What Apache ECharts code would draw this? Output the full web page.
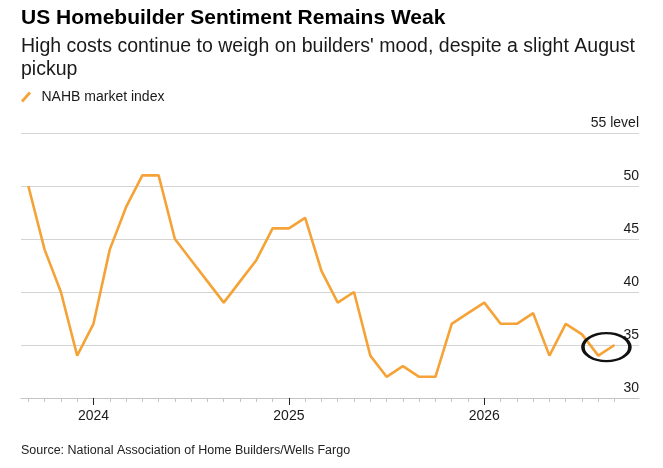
<!DOCTYPE html>
<html>
<head>
<meta charset="utf-8">
<script src="https://cdn.jsdelivr.net/npm/echarts@6/dist/echarts.min.js"></script>
<style>
  html, body { margin: 0; padding: 0; background: #fff; }
  #main { width: 663px; height: 468px; }
</style>
</head>
<body>
<div id="main"></div>
<script>
// NAHB market index, monthly, first point = Sep 2023
var startYear = 2023;
var startMonth = 9;
var nahb = [50, 44, 40, 34, 37, 44, 48, 51, 51, 45, 43, 41, 39, 41, 43, 46, 46, 47, 42, 39, 40, 34, 32, 33, 32, 32, 37, 38, 39, 37, 37, 38, 34, 37, 36, 34, 35];
var yTicks = [30, 35, 40, 45, 50, 55];
var topLabel = '55 level';
// the circled pickup: last two months
var circled = [35, 36];

var lineColor = '#F5A236';

var seriesData = nahb.map(function (v, i) { return [i, v]; });
var monthTicks = nahb.map(function (v, i) { return i; });
var yearTicks = monthTicks.filter(function (i) { return (startMonth - 1 + i) % 12 === 0; });

function yearOf(i) {
  return startYear + Math.floor((startMonth - 1 + i) / 12);
}

var circleCenter = [
  (circled[0] + circled[1]) / 2,
  (nahb[circled[0]] + nahb[circled[1]]) / 2 + 0.3
];

var chart = echarts.init(document.getElementById('main'));

var option = {
  backgroundColor: '#fff',
  animation: false,
  textStyle: { fontFamily: 'Liberation Sans, Arial, sans-serif' },
  title: [
    {
      text: 'US Homebuilder Sentiment Remains Weak',
      left: 21, top: 8, padding: 0,
      textStyle: { fontSize: 21, fontWeight: 'bold', color: '#000' }
    },
    {
      text: "High costs continue to weigh on builders' mood, despite a slight August\npickup",
      left: 21, top: 35, padding: 0,
      textStyle: { fontSize: 19.5, fontWeight: 'normal', color: '#1a1a1a', lineHeight: 23 }
    },
    {
      text: 'Source: National Association of Home Builders/Wells Fargo',
      left: 21, top: 444, padding: 0,
      textStyle: { fontSize: 12.5, fontWeight: 'normal', color: '#222' }
    }
  ],
  legend: {
    left: 21, top: 90, padding: 0,
    icon: 'path://M0,9 L8,0 L10,2 L2,11 Z',
    itemWidth: 11, itemHeight: 11,
    textStyle: { fontSize: 14, color: '#1a1a1a', padding: [0, 0, 0, 5] },
    data: ['NAHB market index']
  },
  grid: {
    left: 21, right: 24, top: 133, bottom: 70,
    outerBoundsMode: 'none'
  },
  xAxis: [
    {
      type: 'value', position: 'bottom',
      min: -0.45, max: 37.5,
      axisLine: { show: true, lineStyle: { color: '#c4c4c4', width: 1 } },
      axisTick: { show: true, customValues: monthTicks, length: 4, lineStyle: { color: '#c4c4c4' } },
      axisLabel: { show: false },
      splitLine: { show: false }
    },
    {
      type: 'value', position: 'bottom',
      min: -0.45, max: 37.5,
      axisLine: { show: false },
      axisTick: { show: true, customValues: yearTicks, length: 7, lineStyle: { color: '#222', width: 1 } },
      axisLabel: {
        show: true, customValues: yearTicks, margin: 11,
        fontSize: 14, color: '#1a1a1a',
        formatter: function (v) { return String(yearOf(v)); }
      },
      splitLine: { show: false }
    }
  ],
  yAxis: {
    type: 'value', position: 'right',
    min: yTicks[0], max: yTicks[yTicks.length - 1], interval: 5,
    axisLine: { show: false },
    axisTick: { show: false },
    splitLine: { lineStyle: { color: '#d4d4d4', width: 1 } },
    axisLabel: {
      inside: true, margin: 0,
      verticalAlign: 'bottom', padding: [0, 0, 3, 0],
      fontSize: 14, color: '#1a1a1a',
      formatter: function (v) { return v === yTicks[yTicks.length - 1] ? topLabel : String(v); }
    }
  },
  series: [
    {
      name: 'NAHB market index',
      type: 'line',
      xAxisIndex: 0,
      data: seriesData,
      showSymbol: false,
      color: lineColor,
      lineStyle: { color: lineColor, width: 2.6 },
      markPoint: {
        silent: true,
        symbol: 'circle',
        symbolSize: [47, 28],
        itemStyle: { color: 'rgba(0,0,0,0)', borderColor: '#111', borderWidth: 2.8 },
        label: { show: false },
        data: [{ coord: circleCenter }]
      }
    }
  ]
};

chart.setOption(option);
</script>
</body>
</html>
